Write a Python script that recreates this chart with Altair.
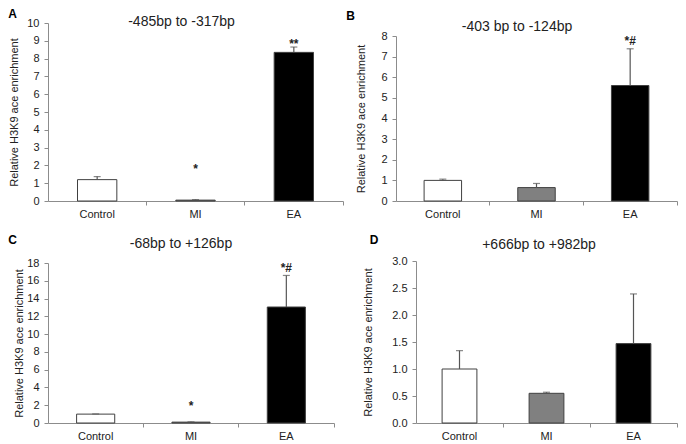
import altair as alt
import pandas as pd

groups = ["Control", "MI", "EA"]
bar_colors = ["#ffffff", "#808080", "#000000"]
y_title = "Relative H3K9 ace enrichment"

# Panel A
a_title = "-485bp to -317bp"
a_mean = [1.2, 0.05, 8.35]
a_err = [0.17, 0.03, 0.3]
a_marks = ["", "*", "**"]
a_mark_y = [None, 1.9, 8.95]
a_ticks = [0, 1, 2, 3, 4, 5, 6, 7, 8, 9, 10]

# Panel B
b_title = "-403 bp to -124bp"
b_mean = [1.0, 0.65, 5.6]
b_err = [0.06, 0.2, 1.78]
b_marks = ["", "", "*#"]
b_mark_y = [None, None, 7.85]
b_ticks = [0, 1, 2, 3, 4, 5, 6, 7, 8]

# Panel C
c_title = "-68bp to +126bp"
c_mean = [1.0, 0.1, 13.05]
c_err = [0.02, 0.03, 3.55]
c_marks = ["", "*", "*#"]
c_mark_y = [None, 2.16, 17.7]
c_ticks = [0, 2, 4, 6, 8, 10, 12, 14, 16, 18]

# Panel D
d_title = "+666bp to +982bp"
d_mean = [1.0, 0.55, 1.47]
d_err = [0.34, 0.02, 0.92]
d_marks = ["", "", ""]
d_mark_y = [None, None, None]
d_ticks = [0.0, 0.5, 1.0, 1.5, 2.0, 2.5, 3.0]

AXIS_GRAY = "#8c8c8c"
TEXT = "#222222"
ERR = "#555555"


def panel(letter, title, means, errs, marks, mark_ys, ticks, fmt,
          w, h, xr, yr, title_xy, letter_xy, tpad, yoff=0):
    df = pd.DataFrame({
        "group": groups,
        "mean": means,
        "upper": [m + e for m, e in zip(means, errs)],
    })
    ann = pd.DataFrame({
        "group": [g for g, m in zip(groups, marks) if m],
        "label": [m for m in marks if m],
        "ypos": [y for y, m in zip(mark_ys, marks) if m],
    })
    xaxis = alt.Axis(bandPosition=1, tickSize=4,
                     labelPadding=3, domainColor=AXIS_GRAY, tickColor=AXIS_GRAY,
                     labelColor=TEXT, labelFontSize=11, labelAngle=0, grid=False,
                     title=None)
    xs = alt.Scale(domain=groups, paddingInner=0, paddingOuter=0, range=xr)
    yaxis = alt.Axis(values=ticks, format=fmt, grid=False, tickSize=4,
                     labelPadding=5, titlePadding=tpad, domainColor=AXIS_GRAY,
                     tickColor=AXIS_GRAY, labelColor=TEXT, labelFontSize=11,
                     titleFontSize=11, titleFontWeight="normal", titleColor=TEXT,
                     offset=yoff)
    ys = alt.Scale(domain=[0, ticks[-1]], range=yr, nice=False, zero=True)

    def X():
        return alt.X("group:N", sort=groups, scale=xs, axis=xaxis, title=None)

    bars = alt.Chart(df).mark_bar(width=alt.RelativeBandSize(0.4), stroke="#404040",
                                  strokeWidth=1).encode(
        x=X(),
        y=alt.Y("mean:Q", scale=ys, axis=yaxis, title=y_title),
        color=alt.Color("group:N", scale=alt.Scale(domain=groups, range=bar_colors),
                        legend=None),
    )
    err = alt.Chart(df).mark_rule(color=ERR, strokeWidth=1.2).encode(
        x=X(),
        y=alt.Y("mean:Q", scale=ys, axis=yaxis, title=y_title),
        y2="upper:Q",
    )
    cap = alt.Chart(df).mark_tick(color=ERR, thickness=1.2, size=7).encode(
        x=X(),
        y=alt.Y("upper:Q", scale=ys, axis=yaxis, title=y_title),
    )
    layers = [bars, err, cap]
    if len(ann):
        txt = alt.Chart(ann).mark_text(fontSize=12, fontWeight="bold", color=TEXT,
                                       baseline="middle", dy=2).encode(
            x=X(),
            y=alt.Y("ypos:Q", scale=ys, axis=yaxis, title=y_title),
            text="label:N",
        )
        layers.append(txt)
    ttl = alt.Chart(pd.DataFrame({"t": [title]})).mark_text(
        fontSize=14, color=TEXT, baseline="middle", align="center").encode(
        text="t:N", x=alt.value(title_xy[0]), y=alt.value(title_xy[1]))
    let = alt.Chart(pd.DataFrame({"t": [letter]})).mark_text(
        fontSize=12, fontWeight="bold", color="#000000", baseline="middle",
        align="center").encode(
        text="t:N", x=alt.value(letter_xy[0]), y=alt.value(letter_xy[1]))
    layers += [ttl, let]
    return alt.layer(*layers).properties(width=w, height=h)


pa = panel("A", a_title, a_mean, a_err, a_marks, a_mark_y, a_ticks, "d",
           295, 178, [0, 295], [178, 0], (133.5, -1), (-35.5, -9), 7)
pb = panel("B", b_title, b_mean, b_err, b_marks, b_mark_y, b_ticks, "d",
           281, 178, [0, 281], [178, 13], (121, 4), (-45.5, -7.5), 14)
pc = panel("C", c_title, c_mean, c_err, c_marks, c_mark_y, c_ticks, "d",
           295, 160, [0, 286], [160, 0], (133, -19), (-35.5, -23.5), 2)
pd_ = panel("D", d_title, d_mean, d_err, d_marks, d_mark_y, d_ticks, ".1f",
            281, 160, [20, 281], [160, -2], (143, -18), (-22, -23.5), 18, yoff=-20)

chart = alt.concat(pa, pb, pc, pd_, columns=2, spacing={"row": 62, "column": 53},
                   align="none", bounds="flush").properties(padding=0).configure(
    font="Liberation Sans").configure_view(stroke=None)

chart.save("out.html", embed_options={"renderer": "svg", "actions": False})
